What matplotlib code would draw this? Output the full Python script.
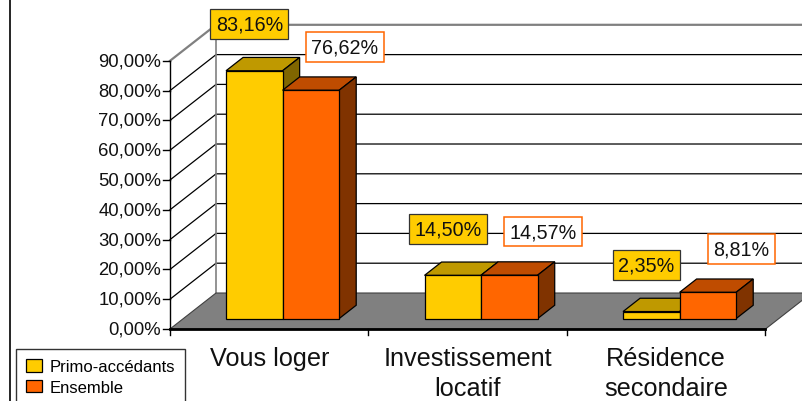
import matplotlib.pyplot as plt
from matplotlib.patches import Patch
from matplotlib.lines import Line2D

plt.rcParams['font.family'] = ['Liberation Sans', 'DejaVu Sans']

# data
categories = ['Vous loger', 'Investissement\nlocatif', 'Résidence\nsecondaire']
series_names = ['Primo-accédants', 'Ensemble']
primo = [83.16, 14.50, 2.35]
ensemble = [76.62, 14.57, 8.81]
y_ticks = [0, 10, 20, 30, 40, 50, 60, 70, 80, 90]

# colours: front, top, side
colors = {
    'Primo-accédants': ('#FFCC00', '#BF9900', '#806600'),
    'Ensemble': ('#FF6600', '#BF4C00', '#803300'),
}

# pseudo-3D projection (oblique), depth z in [0, 1]
DX, DY = 0.232, 12.08
def proj(x, y, z):
    return x + z * DX, y + z * DY

def poly(pts):
    xs, ys = zip(*[proj(*p) for p in pts])
    return list(xs), list(ys)

fig = plt.figure(figsize=(8.02, 4.02), dpi=100)
ax = fig.add_axes([0, 0, 1, 1])
ax.set_xlim(-0.8564, 3.1839)
ax.set_ylim(-24.16, 110.74)
ax.axis('off')

n = len(categories)
top = max(y_ticks)

# walls gridlines
for v in y_ticks[1:]:
    xs, ys = poly([(0, v, 0), (0, v, 1), (n + 0.3, v, 1)])
    if v == top:
        ax.plot(xs, ys, color='#808080', lw=1.6, zorder=1)
    else:
        ax.plot(xs, ys, color='black', lw=0.9, zorder=1)
xs, ys = poly([(0, 0, 1), (0, top, 1)])
ax.plot(xs, ys, color='#808080', lw=1.2, zorder=1)

# floor
xs, ys = poly([(0, 0, 0), (n, 0, 0), (n, 0, 1), (0, 0, 1)])
ax.fill(xs, ys, facecolor='#808080', edgecolor='#404040', lw=0.8, zorder=2)
xs, ys = poly([(0, 0, 0), (n, 0, 0)])
ax.plot(xs, ys, color='black', lw=2, zorder=3)

# front value axis and ticks
xs, ys = poly([(0, 0, 0), (0, top, 0)])
ax.plot(xs, ys, color='black', lw=1, zorder=3)
for v in y_ticks:
    ax.plot([-0.035, 0], [v, v], color='black', lw=1, zorder=3)
    ax.text(-0.045, v, f'{v:.2f}'.replace('.', ',') + '%', ha='right', va='center',
            fontsize=13.3, color='#111111')
for i in range(n + 1):
    ax.plot([i, i], [0, -2.0], color='black', lw=1, zorder=3)
for i, cat in enumerate(categories):
    ax.text(i + 0.5, -5.6, cat, ha='center', va='top', fontsize=18.2,
            linespacing=1.34, color='#111111')

# bars
w = 0.285
z0, z1 = 0.29, 0.66
label_dx = {'Primo-accédants': -0.025, 'Ensemble': 0.17}
label_dy = {'Primo-accédants': 15.6, 'Ensemble': 14.6}
for i in range(n):
    for k, (name, vals) in enumerate(zip(series_names, [primo, ensemble])):
        v = vals[i]
        x_l = i + 0.5 - w + k * w
        x_r = x_l + w
        front, topc, side = colors[name]
        xs, ys = poly([(x_l, v, z0), (x_r, v, z0), (x_r, v, z1), (x_l, v, z1)])
        ax.fill(xs, ys, facecolor=topc, edgecolor='black', lw=0.9, zorder=4)
        xs, ys = poly([(x_r, 0, z0), (x_r, 0, z1), (x_r, v, z1), (x_r, v, z0)])
        ax.fill(xs, ys, facecolor=side, edgecolor='black', lw=0.9, zorder=4)
        xs, ys = poly([(x_l, 0, z0), (x_r, 0, z0), (x_r, v, z0), (x_l, v, z0)])
        ax.fill(xs, ys, facecolor=front, edgecolor='black', lw=0.9, zorder=4)

        cx, cy = proj((x_l + x_r) / 2, v, z0)
        if name == 'Primo-accédants':
            box = dict(boxstyle='square,pad=0.27', facecolor='#FFCC00', edgecolor='#333333', lw=0.9)
        else:
            box = dict(boxstyle='square,pad=0.27', facecolor='white', edgecolor='#FF6600', lw=1.1)
        ax.text(cx + label_dx[name], cy + label_dy[name], f'{v:.2f}'.replace('.', ',') + '%',
                ha='center', va='center', fontsize=14.2, color='#111111', bbox=box, zorder=6)

# chart area border at the left
fig.add_artist(Line2D([10 / 802, 10 / 802], [0, 1], transform=fig.transFigure,
                      color='black', lw=1.2))

handles = [Patch(facecolor=colors[s][0], edgecolor='black', lw=0.9) for s in series_names]
leg = fig.legend(handles, series_names, loc='upper left', bbox_to_anchor=(16 / 802, 1 - 350 / 402),
                 fontsize=12, frameon=True, fancybox=False, borderaxespad=0,
                 handlelength=0.95, handleheight=0.8, handletextpad=0.45,
                 labelspacing=0.32, borderpad=0.6)
leg.get_frame().set_edgecolor('black')
leg.get_frame().set_linewidth(1.0)

fig.savefig('out.png', dpi=100)
